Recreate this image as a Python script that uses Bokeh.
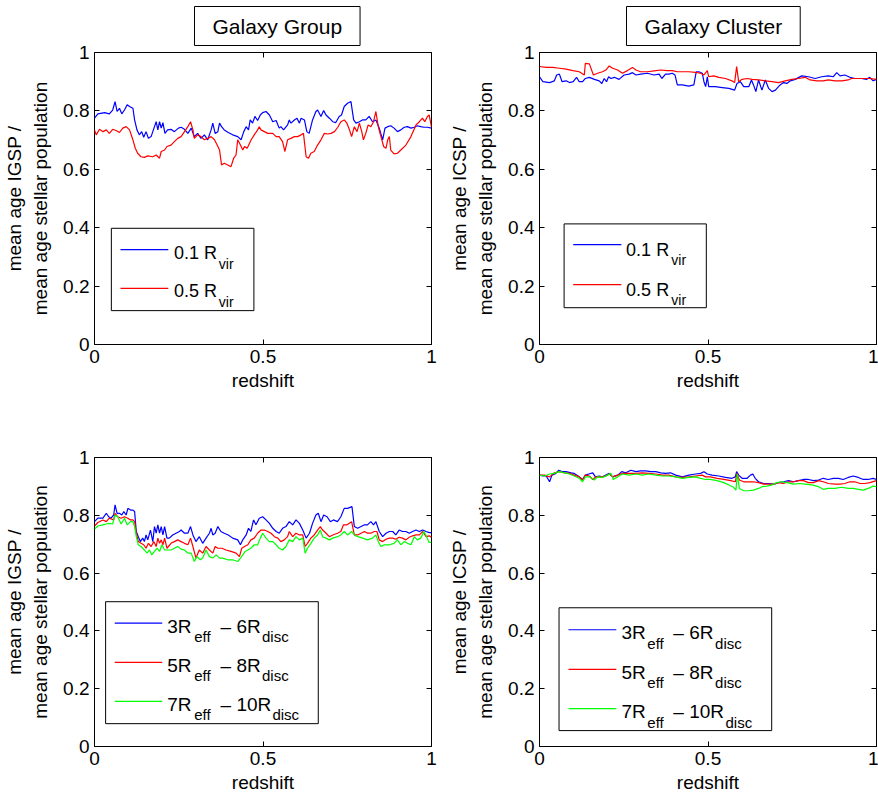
from bokeh.plotting import figure
from bokeh.models import Range1d, FixedTicker, LinearAxis
from bokeh.layouts import column, row
from bokeh.core.properties import value
from bokeh.embed import file_html
from bokeh.resources import INLINE

FONT = "Liberation Sans"

x_ticks = [0, 0.5, 1]
x_tick_labels = ["0", "0.5", "1"]
y_ticks = [0, 0.2, 0.4, 0.6, 0.8, 1]
y_tick_labels = ["0", "0.2", "0.4", "0.6", "0.8", "1"]

titles = ["Galaxy Group", "Galaxy Cluster"]
ylabels = ["mean age IGSP /\nmean age stellar population",
           "mean age ICSP /\nmean age stellar population"]
xlabel = "redshift"
names_top = ["0.1 R", "0.5 R"]
sub_top = ["vir", "vir"]
names_bot_a = ["3R", "5R", "7R"]
names_bot_b = ["\u2013 6R", "\u2013 8R", "\u2013 10R"]
sub_bot_a = ["eff", "eff", "eff"]
sub_bot_b = ["disc", "disc", "disc"]

# ---- Galaxy group, top panel: (redshift, age ratio) ----
group_01rvir = [(0,.775),(.010,.790),(.030,.794),(.044,.790),(.054,.803),(.061,.832),(.067,.798),(.074,.809),(.081,.790),(.089,.803),
 (.097,.821),(.104,.815),(.114,.809),(.119,.769),(.126,.735),(.133,.718),(.140,.729),(.146,.710),(.153,.729),(.160,.706),
 (.168,.712),(.178,.746),(.183,.763),(.188,.735),(.193,.763),(.198,.741),(.203,.760),(.209,.723),(.217,.735),(.227,.737),
 (.237,.729),(.249,.741),(.257,.744),(.267,.737),(.277,.723),(.287,.741),(.296,.712),(.306,.723),(.316,.706),(.326,.718),
 (.336,.701),(.346,.735),(.351,.758),(.358,.723),(.366,.729),(.371,.758),(.377,.746),(.385,.735),(.397,.726),(.410,.718),
 (.425,.712),(.435,.701),(.443,.729),(.450,.746),(.457,.735),(.462,.769),(.469,.758),(.476,.781),(.484,.767),(.492,.786),
 (.499,.794),(.509,.798),(.519,.786),(.529,.763),(.539,.767),(.548,.741),(.553,.746),(.561,.735),(.573,.752),(.578,.769),
 (.583,.758),(.593,.769),(.601,.775),(.608,.758),(.613,.775),(.623,.769),(.630,.729),(.637,.723),(.647,.769),(.657,.798),
 (.662,.803),(.672,.781),(.680,.801),(.687,.786),(.697,.775),(.707,.763),(.716,.760),(.726,.781),(.733,.786),(.741,.815),
 (.751,.826),(.761,.832),(.769,.769),(.776,.758),(.786,.763),(.795,.769),(.805,.769),(.815,.781),(.825,.763),(.835,.769),
 (.845,.741),(.855,.701),(.862,.741),(.870,.746),(.879,.749),(.889,.741),(.899,.729),(.909,.735),(.919,.744),(.929,.746),
 (.939,.741),(.949,.744),(.958,.749),(.968,.746),(.978,.744),(.988,.744),(1.0,.741)]

group_05rvir = [(0,.735),(.005,.718),(.015,.737),(.025,.729),(.035,.735),(.044,.723),(.054,.737),(.064,.733),(.074,.726),(.084,.741),
 (.094,.746),(.104,.735),(.114,.701),(.121,.672),(.128,.655),(.138,.643),(.148,.641),(.158,.646),(.173,.643),(.183,.649),
 (.193,.638),(.198,.661),(.208,.666),(.215,.678),(.227,.683),(.237,.695),(.247,.706),(.257,.712),(.267,.729),(.277,.746),
 (.285,.763),(.292,.735),(.296,.706),(.306,.718),(.316,.712),(.326,.701),(.336,.706),(.346,.712),(.356,.701),(.364,.683),
 (.371,.666),(.377,.615),(.385,.621),(.395,.615),(.405,.609),(.413,.638),(.420,.649),(.425,.701),(.433,.683),(.440,.666),
 (.445,.678),(.453,.672),(.465,.701),(.474,.718),(.484,.735),(.489,.746),(.494,.735),(.504,.729),(.514,.723),(.529,.723),
 (.539,.712),(.548,.712),(.558,.695),(.565,.661),(.573,.701),(.583,.706),(.593,.712),(.603,.712),(.613,.718),(.620,.723),
 (.628,.643),(.635,.638),(.642,.655),(.652,.661),(.662,.683),(.672,.701),(.682,.723),(.692,.721),(.702,.723),(.712,.729),
 (.722,.744),(.731,.763),(.741,.769),(.749,.758),(.756,.737),(.763,.712),(.771,.746),(.779,.729),(.786,.758),(.793,.729),
 (.798,.701),(.805,.723),(.812,.752),(.820,.746),(.828,.763),(.835,.798),(.842,.746),(.850,.712),(.858,.678),(.865,.672),
 (.870,.701),(.875,.712),(.879,.666),(.889,.653),(.899,.655),(.909,.666),(.924,.683),(.939,.712),(.954,.752),(.964,.763),
 (.973,.775),(.980,.763),(.988,.781),(.993,.786),(1.0,.744)]

# ---- Galaxy cluster, top panel ----
cluster_01rvir = [(0,.917),(.010,.900),(.030,.897),(.044,.903),(.051,.923),(.059,.926),(.067,.900),(.079,.903),(.089,.897),(.100,.900),
 (.110,.915),(.118,.900),(.128,.900),(.136,.911),(.148,.915),(.163,.908),(.177,.903),(.185,.894),(.192,.911),(.199,.900),
 (.205,.917),(.212,.911),(.222,.915),(.236,.908),(.251,.923),(.266,.926),(.276,.931),(.286,.923),(.300,.926),(.320,.929),
 (.340,.923),(.355,.926),(.363,.911),(.374,.926),(.384,.926),(.394,.929),(.402,.923),(.409,.889),(.424,.889),(.443,.885),
 (.458,.889),(.465,.934),(.473,.934),(.483,.929),(.488,.900),(.493,.883),(.498,.917),(.502,.883),(.522,.883),(.542,.880),
 (.562,.877),(.579,.871),(.586,.894),(.596,.900),(.606,.883),(.621,.883),(.629,.906),(.635,.889),(.642,.866),(.650,.906),
 (.660,.871),(.670,.906),(.680,.877),(.690,.866),(.700,.871),(.714,.889),(.724,.897),(.734,.894),(.744,.903),(.759,.908),
 (.778,.920),(.798,.917),(.818,.911),(.837,.917),(.857,.920),(.872,.917),(.882,.931),(.892,.920),(.906,.923),(.921,.915),
 (.936,.911),(.956,.911),(.970,.908),(.980,.915),(.990,.903),(1.0,.908)]

cluster_05rvir = [(0,.952),(.020,.949),(.039,.949),(.059,.946),(.079,.943),(.099,.938),(.118,.934),(.133,.923),(.136,.963),(.148,.961),
 (.160,.923),(.172,.929),(.187,.934),(.197,.940),(.207,.954),(.217,.946),(.232,.940),(.246,.929),(.261,.938),(.276,.949),
 (.286,.940),(.300,.934),(.320,.934),(.340,.937),(.360,.940),(.379,.938),(.394,.938),(.409,.934),(.424,.934),(.443,.934),
 (.463,.932),(.478,.929),(.488,.923),(.498,.938),(.502,.917),(.517,.920),(.532,.915),(.552,.911),(.571,.903),(.579,.897),
 (.585,.952),(.591,.900),(.601,.908),(.616,.911),(.631,.908),(.650,.906),(.670,.903),(.690,.900),(.709,.897),(.729,.903),
 (.749,.908),(.768,.911),(.788,.915),(.803,.906),(.823,.903),(.842,.903),(.857,.906),(.877,.903),(.897,.903),(.916,.906),
 (.926,.911),(.941,.911),(.961,.911),(.980,.911),(1.0,.908)]

# ---- Galaxy group, bottom panel ----
group_3r6r = [(0,.778),(.010,.790),(.025,.790),(.035,.807),(.042,.795),(.049,.790),(.057,.801),(.061,.836),(.067,.807),(.074,.807),
 (.081,.801),(.087,.813),(.094,.801),(.099,.824),(.107,.818),(.114,.818),(.119,.813),(.124,.744),(.130,.726),(.136,.709),
 (.143,.721),(.148,.709),(.153,.732),(.158,.715),(.166,.749),(.173,.709),(.178,.761),(.183,.738),(.188,.767),(.193,.738),
 (.198,.761),(.203,.732),(.208,.761),(.215,.721),(.222,.721),(.232,.732),(.242,.738),(.252,.744),(.257,.749),(.267,.738),
 (.277,.738),(.285,.761),(.292,.732),(.301,.709),(.311,.726),(.321,.703),(.331,.721),(.341,.738),(.346,.755),(.351,.732),
 (.358,.738),(.366,.761),(.375,.744),(.385,.738),(.397,.732),(.410,.721),(.425,.715),(.433,.698),(.440,.715),(.450,.732),
 (.457,.755),(.464,.744),(.472,.784),(.479,.767),(.489,.790),(.499,.795),(.509,.784),(.519,.772),(.529,.755),(.539,.744),
 (.548,.738),(.558,.755),(.568,.761),(.578,.778),(.588,.767),(.598,.784),(.608,.772),(.618,.749),(.628,.721),(.638,.738),
 (.647,.772),(.657,.801),(.664,.807),(.672,.778),(.680,.801),(.690,.795),(.700,.778),(.709,.784),(.721,.778),(.731,.795),
 (.741,.824),(.751,.824),(.764,.830),(.771,.761),(.781,.755),(.791,.761),(.801,.767),(.810,.767),(.820,.778),(.828,.767),
 (.835,.778),(.845,.744),(.855,.726),(.865,.738),(.875,.744),(.885,.744),(.894,.732),(.904,.749),(.914,.744),(.924,.744),
 (.934,.738),(.944,.744),(.954,.749),(.964,.744),(.974,.749),(.984,.744),(.993,.740),(1.0,.740)]

group_5r8r = [(0,.763),(.010,.775),(.025,.784),(.035,.778),(.044,.790),(.057,.784),(.061,.807),(.069,.795),(.079,.790),(.089,.795),
 (.099,.790),(.107,.784),(.114,.784),(.119,.778),(.124,.738),(.130,.709),(.138,.703),(.146,.698),(.153,.686),(.160,.703),
 (.168,.692),(.176,.709),(.183,.692),(.188,.721),(.193,.703),(.198,.715),(.203,.698),(.208,.721),(.215,.686),(.227,.703),
 (.237,.709),(.247,.715),(.257,.709),(.267,.703),(.277,.698),(.285,.721),(.292,.692),(.301,.652),(.311,.680),(.321,.669),
 (.331,.692),(.341,.680),(.351,.669),(.358,.692),(.366,.686),(.378,.686),(.390,.680),(.405,.675),(.420,.669),(.430,.657),
 (.437,.686),(.445,.692),(.455,.698),(.464,.715),(.474,.721),(.484,.738),(.494,.749),(.504,.749),(.514,.744),(.524,.738),
 (.534,.726),(.544,.721),(.553,.709),(.563,.715),(.573,.726),(.578,.744),(.588,.726),(.598,.738),(.608,.732),(.618,.732),
 (.625,.692),(.632,.703),(.642,.721),(.652,.732),(.662,.749),(.670,.761),(.677,.749),(.687,.738),(.697,.726),(.707,.732),
 (.721,.738),(.731,.744),(.739,.767),(.749,.767),(.763,.778),(.771,.732),(.781,.732),(.791,.738),(.801,.744),(.810,.738),
 (.820,.738),(.830,.744),(.838,.744),(.845,.715),(.855,.709),(.865,.717),(.875,.721),(.885,.721),(.894,.717),(.904,.724),
 (.914,.721),(.924,.715),(.934,.724),(.944,.729),(.954,.732),(.964,.732),(.974,.744),(.984,.726),(.993,.729),(1.0,.724)]

group_7r10r = [(0,.752),(.010,.763),(.025,.767),(.035,.770),(.044,.772),(.054,.770),(.061,.801),(.069,.795),(.079,.770),(.089,.790),
 (.097,.767),(.107,.778),(.114,.778),(.119,.761),(.124,.726),(.130,.698),(.138,.692),(.148,.680),(.156,.669),(.163,.680),
 (.170,.663),(.178,.675),(.186,.686),(.193,.675),(.200,.698),(.208,.680),(.215,.680),(.227,.680),(.237,.686),(.247,.692),
 (.257,.683),(.267,.680),(.277,.669),(.287,.669),(.296,.640),(.304,.657),(.314,.646),(.321,.652),(.331,.680),(.341,.657),
 (.351,.652),(.361,.663),(.371,.652),(.380,.652),(.395,.646),(.410,.646),(.425,.640),(.433,.652),(.440,.663),(.447,.675),
 (.455,.680),(.464,.686),(.474,.698),(.484,.698),(.492,.721),(.499,.738),(.509,.721),(.519,.709),(.529,.709),(.539,.698),
 (.548,.686),(.558,.680),(.568,.692),(.578,.715),(.588,.709),(.598,.726),(.608,.715),(.618,.721),(.625,.669),(.632,.686),
 (.642,.703),(.652,.721),(.662,.732),(.670,.749),(.677,.726),(.687,.721),(.697,.715),(.707,.721),(.721,.726),(.731,.732),
 (.741,.744),(.751,.732),(.763,.744),(.771,.732),(.781,.726),(.796,.721),(.810,.715),(.825,.721),(.835,.732),(.842,.709),
 (.850,.692),(.860,.698),(.875,.698),(.889,.703),(.899,.715),(.909,.698),(.919,.709),(.929,.703),(.939,.698),(.949,.726),
 (.958,.715),(.968,.721),(.978,.744),(.983,.732),(.993,.706),(1.0,.706)]

# ---- Galaxy cluster, bottom panel ----
cluster_3r6r = [(0,.939),(.010,.936),(.020,.936),(.030,.916),(.037,.939),(.049,.945),(.057,.956),(.067,.951),(.079,.951),(.094,.947),
 (.103,.945),(.118,.933),(.128,.924),(.136,.939),(.146,.943),(.158,.947),(.166,.933),(.177,.936),(.187,.933),(.197,.939),
 (.207,.945),(.217,.933),(.232,.939),(.244,.951),(.256,.947),(.271,.956),(.286,.951),(.300,.954),(.315,.954),(.330,.951),
 (.345,.951),(.360,.947),(.374,.945),(.389,.947),(.404,.939),(.424,.933),(.443,.939),(.463,.943),(.478,.945),(.488,.951),
 (.498,.943),(.512,.939),(.532,.936),(.552,.931),(.571,.928),(.581,.933),(.585,.951),(.591,.939),(.601,.928),(.616,.928),
 (.626,.939),(.633,.943),(.640,.928),(.650,.916),(.665,.910),(.680,.910),(.695,.908),(.709,.913),(.724,.916),(.739,.920),
 (.754,.916),(.768,.920),(.783,.924),(.798,.924),(.813,.920),(.828,.922),(.842,.928),(.857,.924),(.872,.928),(.887,.928),
 (.901,.924),(.916,.931),(.931,.936),(.946,.931),(.961,.924),(.975,.924),(.990,.928),(1.0,.924)]

cluster_5r8r = [(0,.939),(.015,.939),(.030,.933),(.044,.947),(.059,.951),(.074,.947),(.089,.945),(.103,.939),(.118,.933),(.128,.922),
 (.136,.939),(.148,.936),(.158,.924),(.167,.933),(.182,.933),(.197,.936),(.207,.943),(.217,.933),(.232,.939),(.246,.945),
 (.266,.945),(.286,.945),(.305,.947),(.325,.945),(.345,.943),(.365,.939),(.384,.939),(.404,.933),(.424,.931),(.443,.933),
 (.463,.936),(.483,.939),(.493,.933),(.507,.933),(.527,.928),(.547,.924),(.567,.920),(.581,.916),(.586,.945),(.593,.922),
 (.606,.916),(.621,.916),(.635,.916),(.650,.913),(.665,.908),(.680,.908),(.695,.907),(.709,.913),(.724,.910),(.739,.916),
 (.754,.916),(.768,.920),(.783,.920),(.798,.913),(.813,.913),(.828,.920),(.842,.916),(.857,.910),(.877,.908),(.892,.908),
 (.906,.910),(.921,.916),(.936,.916),(.951,.910),(.966,.910),(.980,.913),(1.0,.920)]

cluster_7r10r = [(0,.939),(.015,.936),(.030,.943),(.044,.945),(.059,.951),(.074,.947),(.089,.943),(.103,.936),(.118,.928),(.128,.916),
 (.136,.933),(.148,.933),(.163,.922),(.172,.933),(.187,.931),(.202,.939),(.212,.945),(.219,.924),(.232,.933),(.246,.943),
 (.266,.939),(.286,.943),(.305,.939),(.325,.943),(.345,.939),(.365,.936),(.384,.936),(.404,.933),(.424,.928),(.443,.931),
 (.463,.933),(.478,.928),(.493,.924),(.507,.924),(.527,.920),(.547,.913),(.562,.905),(.576,.897),(.583,.887),(.587,.943),
 (.593,.893),(.606,.885),(.621,.885),(.635,.887),(.650,.893),(.660,.899),(.675,.901),(.690,.905),(.704,.913),(.719,.916),
 (.734,.913),(.754,.908),(.773,.910),(.788,.908),(.808,.905),(.828,.899),(.842,.890),(.857,.893),(.877,.893),(.897,.897),
 (.916,.893),(.931,.893),(.946,.890),(.961,.887),(.975,.893),(.990,.901),(1.0,.899)]

BLUE, RED, GREEN = "#0000ff", "#ff0000", "#00ff00"


def style_axis(ax, ticks, labels, show_labels, label_standoff=2):
    ax.ticker = FixedTicker(ticks=ticks)
    ax.axis_line_color = None
    ax.major_tick_in = 5
    ax.major_tick_out = 0
    ax.minor_tick_in = 0
    ax.minor_tick_out = 0
    ax.major_tick_line_color = "black"
    if show_labels:
        ax.major_label_overrides = dict(zip(ticks, labels))
        ax.major_label_text_font = FONT
        ax.major_label_text_font_size = "19px"
        ax.major_label_text_color = "black"
        ax.major_label_standoff = 5
        ax.axis_label_text_font = FONT
        ax.axis_label_text_font_size = "19px"
        ax.axis_label_text_font_style = "normal"
        ax.axis_label_text_color = "black"
        ax.axis_label_text_line_height = 1.25
        ax.axis_label_standoff = label_standoff
    else:
        ax.major_label_overrides = {t: "" for t in ticks}
        ax.major_label_text_font_size = "0px"
        ax.major_label_standoff = 0


def make_panel(width, height, bl, br, bt, bb, ylabel, title, toff):
    p = figure(width=width, height=height, output_backend="svg", toolbar_location=None,
               x_range=Range1d(0, 1), y_range=Range1d(0, 1),
               min_border_left=bl, min_border_right=br, min_border_top=bt, min_border_bottom=bb)
    p.xgrid.visible = False
    p.ygrid.visible = False
    p.outline_line_color = "black"
    p.outline_line_alpha = 1
    p.outline_line_width = 1
    p.background_fill_color = "white"
    p.border_fill_color = "white"
    style_axis(p.xaxis[0], x_ticks, x_tick_labels, True, 4)
    style_axis(p.yaxis[0], y_ticks, y_tick_labels, True, 9)
    p.xaxis[0].axis_label = xlabel
    p.yaxis[0].axis_label = ylabel
    top = LinearAxis()
    right = LinearAxis()
    style_axis(top, x_ticks, x_tick_labels, False)
    style_axis(right, y_ticks, y_tick_labels, False)
    p.add_layout(top, "above")
    p.add_layout(right, "right")
    if title:
        p.title.text = title
        p.title.align = "left"
        p.title.offset = toff
        p.title.vertical_align = "top"
        p.title.text_font = FONT
        p.title.text_font_size = "21px"
        p.title.text_font_style = "normal"
        p.title.text_color = "black"
        p.title.border_line_color = "black"
        p.title.border_line_width = 1
        p.title.background_fill_color = "white"
        p.title.padding = dict(x=18, y=8)
    return p


def draw_series(p, pairs, color):
    xs = [a for a, b in pairs]
    ys = [b for a, b in pairs]
    p.line(xs, ys, line_color=color, line_width=1.2)


def draw_legend(p, box, sx, sys, colors, pieces):
    left, right, top, bottom = box
    p.quad(left=[left], right=[right], top=[top], bottom=[bottom],
           fill_color="white", line_color="black", line_width=1)
    for yy, cc in zip(sys, colors):
        p.line([sx[0], sx[1]], [yy, yy], line_color=cc, line_width=1.2)
    for xs, ys, texts, size in pieces:
        p.text(x=xs, y=ys, text=texts, text_font=value(FONT), text_font_size=size,
               text_color="black", text_align="left", text_baseline="alphabetic")


# Panel sizes
p1 = make_panel(445, 404, 93, 14, 52, 60, ylabels[0], titles[0], 100)
p2 = make_panel(433, 404, 93, 2, 52, 60, ylabels[1], titles[1], 87)
p3 = make_panel(445, 391, 93, 14, 53, 48, ylabels[0], None, 0)
p4 = make_panel(433, 391, 93, 2, 53, 48, ylabels[1], None, 0)

draw_series(p1, group_01rvir, BLUE)
draw_series(p1, group_05rvir, RED)
draw_series(p2, cluster_01rvir, BLUE)
draw_series(p2, cluster_05rvir, RED)
draw_series(p3, group_3r6r, BLUE)
draw_series(p3, group_5r8r, RED)
draw_series(p3, group_7r10r, GREEN)
draw_series(p4, cluster_3r6r, BLUE)
draw_series(p4, cluster_5r8r, RED)
draw_series(p4, cluster_7r10r, GREEN)

# Legends (top panels)
draw_legend(p1, (0.050, 0.473, 0.398, 0.116), (0.077, 0.219), [0.325, 0.192], [BLUE, RED],
            [([0.236, 0.236], [0.315, 0.182], names_top, "18px"),
             ([0.369, 0.369], [0.277, 0.144], sub_top, "14px")])
draw_legend(p2, (0.073, 0.495, 0.413, 0.126), (0.100, 0.243), [0.342, 0.205], [BLUE, RED],
            [([0.257, 0.257], [0.324, 0.187], names_top, "18px"),
             ([0.391, 0.391], [0.290, 0.153], sub_top, "14px")])

# Legends (bottom panels)
draw_legend(p3, (0.033, 0.664, 0.501, 0.079), (0.060, 0.201), [0.427, 0.291, 0.156], [BLUE, RED, GREEN],
            [([0.216] * 3, [0.415, 0.279, 0.145], names_bot_a, "19px"),
             ([0.296] * 3, [0.380, 0.244, 0.110], sub_bot_a, "15px"),
             ([0.374] * 3, [0.415, 0.279, 0.145], names_bot_b, "19px"),
             ([0.497, 0.497, 0.528], [0.380, 0.244, 0.110], sub_bot_b, "15px")])
draw_legend(p4, (0.058, 0.689, 0.480, 0.055), (0.086, 0.228), [0.404, 0.267, 0.131], [BLUE, RED, GREEN],
            [([0.243] * 3, [0.394, 0.256, 0.120], names_bot_a, "19px"),
             ([0.320] * 3, [0.358, 0.220, 0.084], sub_bot_a, "15px"),
             ([0.397] * 3, [0.394, 0.256, 0.120], names_bot_b, "19px"),
             ([0.521, 0.521, 0.552], [0.358, 0.220, 0.084], sub_bot_b, "15px")])

layout = column(row(p1, p2, spacing=0), row(p3, p4, spacing=0), spacing=0)

open("out.html", "w").write(file_html(layout, INLINE))
